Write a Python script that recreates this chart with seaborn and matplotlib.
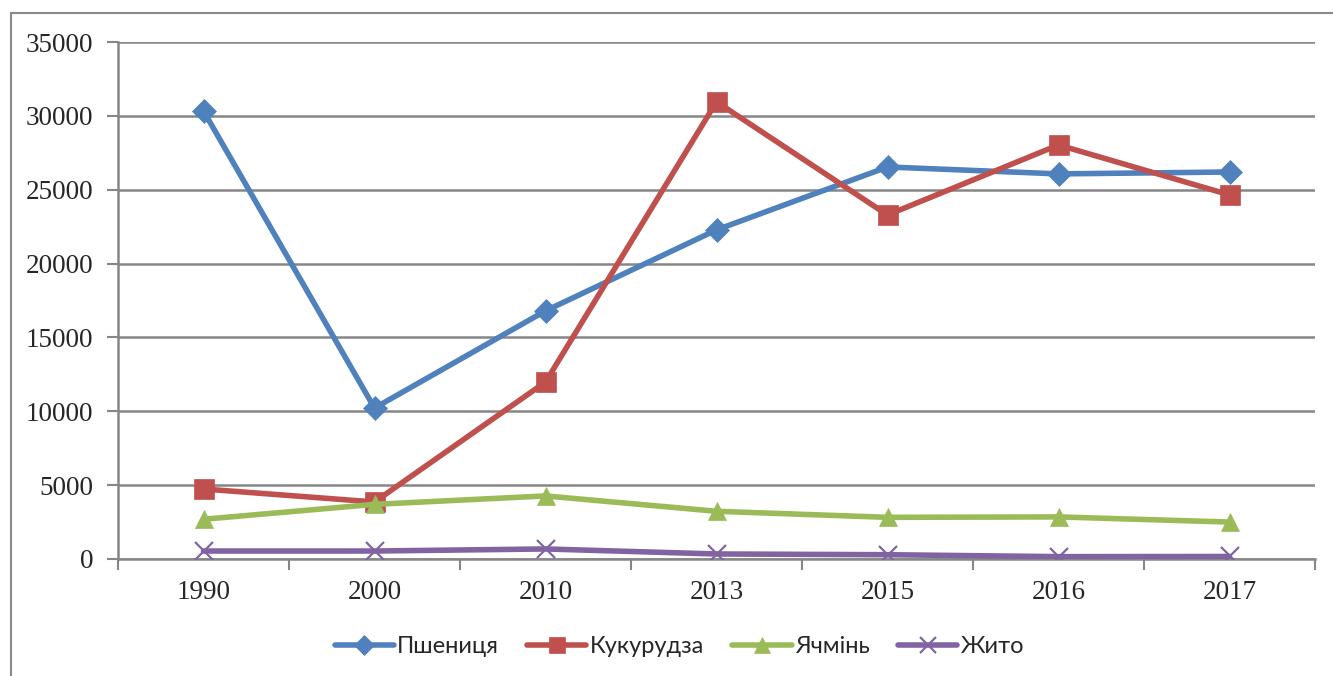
import matplotlib
matplotlib.use("Agg")
import matplotlib.pyplot as plt
from matplotlib.patches import Rectangle
from matplotlib.ticker import FixedLocator, MultipleLocator
import seaborn as sns
import pandas as pd

years = ["1990", "2000", "2010", "2013", "2015", "2016", "2017"]
wheat = [30330, 10220, 16800, 22280, 26540, 26070, 26200]
corn = [4740, 3860, 11980, 30950, 23290, 28030, 24650]
barley = [2690, 3700, 4270, 3230, 2820, 2850, 2500]
rye = [540, 540, 680, 340, 290, 160, 170]

series_names = ["Пшениця", "Кукурудза", "Ячмінь", "Жито"]
series_values = [wheat, corn, barley, rye]
colors = ["#4F81BD", "#C0504D", "#9BBB59", "#8064A2"]
markers = ["D", "s", "^", "x"]
msizes = [12, 14, 13, 13]

sns.set_theme(style="white")
plt.rcParams["font.family"] = ["Liberation Serif", "DejaVu Serif"]

fig = plt.figure(figsize=(13.33, 6.76), dpi=100)
ax = fig.add_axes([118 / 1333, 1 - 559 / 676, (1315 - 118) / 1333, (559 - 42) / 676])

grid_c = "#868686"
for name, vals, c, m, ms in zip(series_names, series_values, colors, markers, msizes):
    df = pd.DataFrame({"year": years, "value": vals})
    sns.lineplot(
        data=df, x="year", y="value", ax=ax, sort=False, color=c, lw=4,
        marker=m, markersize=ms, markeredgecolor=c, markerfacecolor=c,
        markeredgewidth=1.6 if m == "x" else 0.5, label=name, zorder=3,
    )

ax.set_xlim(-0.5, len(years) - 0.5)
ax.set_ylim(0, 35000)
ax.yaxis.set_major_locator(MultipleLocator(5000))
ax.set_xlabel("")
ax.set_ylabel("")

ax.grid(axis="y", color=grid_c, lw=1.8)
ax.grid(axis="x", visible=False)
ax.set_axisbelow(True)
for s in ["top", "right"]:
    ax.spines[s].set_visible(False)
for s in ["left", "bottom"]:
    ax.spines[s].set_color(grid_c)
    ax.spines[s].set_linewidth(1.8)

ax.tick_params(axis="y", which="major", length=8, width=1.5, color=grid_c,
               labelsize=19.5, pad=10, left=True)
ax.tick_params(axis="x", which="major", length=0, labelsize=19.5, pad=15)
ax.xaxis.set_minor_locator(FixedLocator([i - 0.5 for i in range(len(years) + 1)]))
ax.tick_params(axis="x", which="minor", length=8, width=1.5, color=grid_c, bottom=True)

leg = ax.legend(loc="center", bbox_to_anchor=(0.469, -0.17), ncol=4, frameon=False,
                prop={"family": ["Lato", "DejaVu Sans"], "size": 17},
                handlelength=2.5, columnspacing=1.2, handletextpad=0.15,
                markerscale=0.85)

fig.patches.append(Rectangle((11 / 1333, -0.05), 1.2, 1 - 13 / 676 + 0.05,
                             transform=fig.transFigure, fill=False,
                             edgecolor="#8a8a8a", lw=1.5, zorder=0))

fig.savefig("out.png", dpi=100)
